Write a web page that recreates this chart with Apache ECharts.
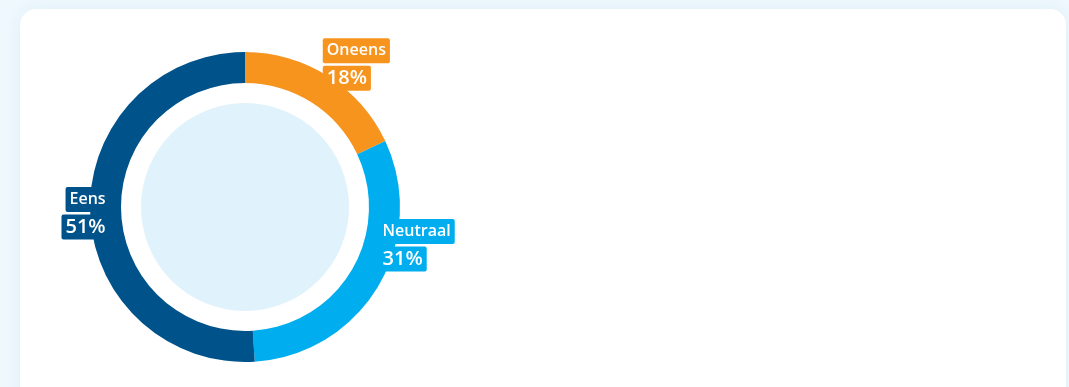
<!DOCTYPE html>
<html>
<head>
<meta charset="utf-8">
<title>Stellingen</title>
<script src="https://cdn.jsdelivr.net/npm/echarts@6/dist/echarts.min.js"></script>
<style>
  html, body { margin: 0; padding: 0; width: 1069px; height: 387px; overflow: hidden; background: #eef8fd; }
  .card {
    position: absolute; left: 20px; top: 9px; width: 1046px; height: 430px;
    background: #ffffff; border-radius: 16px;
    box-shadow: 0 0 18px rgba(0, 110, 180, 0.06);
  }
  #chart { position: absolute; left: 0; top: 0; width: 1069px; height: 387px; }
</style>
</head>
<body>
<div class="card"></div>
<div id="chart"></div>
<script>
// Answer categories and their shares (percent)
const categories = ['Oneens', 'Neutraal', 'Eens'];
const shares = [18, 31, 51];
const colors = ['#f7941e', '#00aeef', '#00538a'];

// Label nudges from the ring's midline, and text alignment per category
const labelNudge = [[35, -22], [49, -34], [-17, 2]];
const labelAlign = ['left', 'left', 'right'];

function richFor(color, align) {
  return {
    name: {
      fontFamily: 'Open Sans', fontSize: 16, fontWeight: 600, color: '#ffffff',
      backgroundColor: color, padding: [4, 4, 5, 4], borderRadius: 2,
      lineHeight: 27, align: align
    },
    pct: {
      fontFamily: 'Open Sans', fontSize: 20, fontWeight: 600, color: '#ffffff',
      backgroundColor: color, padding: [3, 4, 2, 4], borderRadius: 2,
      lineHeight: 28, align: align
    }
  };
}

const ringData = categories.map((name, i) => ({
  name: name,
  value: shares[i],
  itemStyle: { color: colors[i] },
  label: { rich: richFor(colors[i], labelAlign[i]) }
}));

const chart = echarts.init(document.getElementById('chart'), null, { renderer: 'canvas' });
chart.setOption({
  animation: false,
  series: [
    {
      type: 'pie',
      silent: true,
      center: [245, 207],
      radius: [0, 104],
      label: { show: false },
      labelLine: { show: false },
      itemStyle: { color: '#e0f2fb' },
      data: [{ value: 1, name: '' }]
    },
    {
      type: 'pie',
      center: [245, 207],
      radius: [124, 155],
      startAngle: 90,
      clockwise: true,
      avoidLabelOverlap: false,
      emphasis: { scale: false },
      itemStyle: { borderWidth: 0 },
      label: {
        show: true,
        position: 'inside',
        formatter: p => '{name|' + p.name + '}\n{pct|' + p.value + '%}'
      },
      labelLine: { show: false },
      labelLayout: p => ({ dx: labelNudge[p.dataIndex][0], dy: labelNudge[p.dataIndex][1] }),
      data: ringData
    }
  ]
});
</script>
</body>
</html>
